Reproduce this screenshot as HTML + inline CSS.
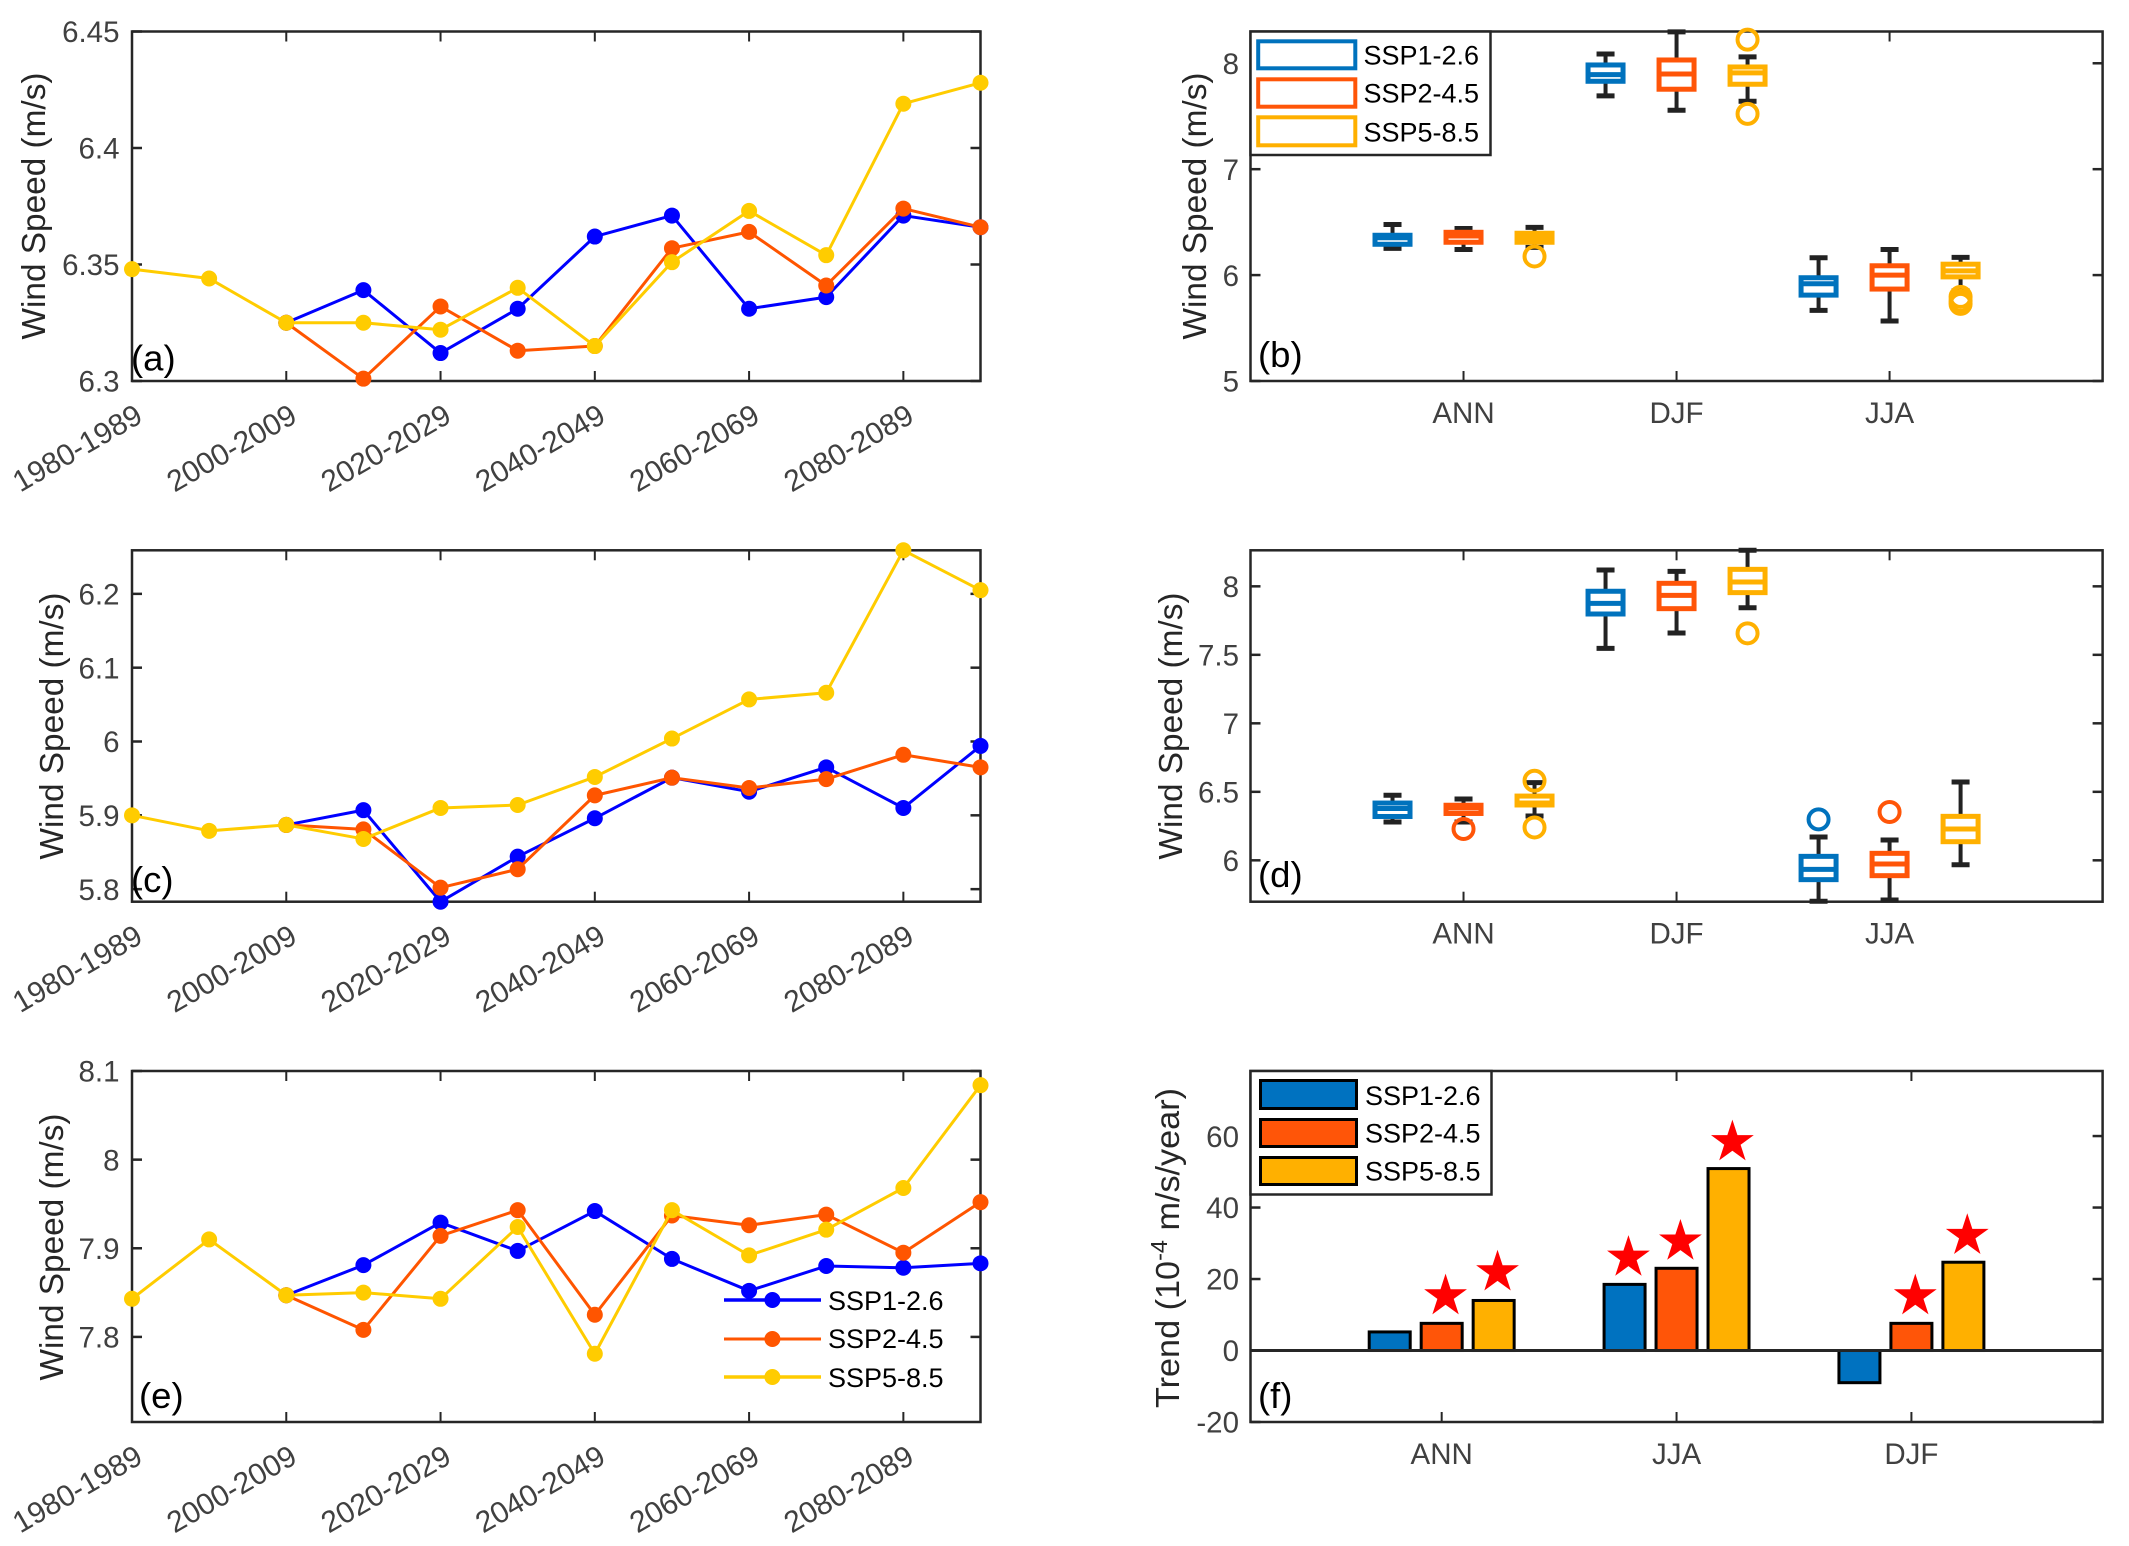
<!DOCTYPE html>
<html lang="en">
<head>
<meta charset="utf-8">
<title>Wind speed projections under SSP scenarios</title>
<style>
html,body{margin:0;padding:0;background:#fff;}
svg{display:block;}
text{font-family:"Liberation Sans",Arial,sans-serif;}
.title{font-size:33.5px;fill:#262626;}
.tick{font-size:29.5px;fill:#404040;}
.xrot{font-size:30px;fill:#404040;}
.letter{font-size:36.5px;fill:#000;}
.leg{font-size:27px;fill:#000;}
</style>
</head>
<body>
<svg xmlns="http://www.w3.org/2000/svg" width="2129" height="1546" viewBox="0 0 2129 1546">
  <rect x="0" y="0" width="2129" height="1546" fill="#ffffff"/>

  <g id="panel-a">
    <g id="axes-a"></g>
    <g id="marks-a"></g>
    <text class="title" transform="translate(45,206) rotate(-90)" text-anchor="middle" textLength="267" lengthAdjust="spacingAndGlyphs">Wind Speed (m/s)</text>
    <text class="letter" x="131" y="370.5">(a)</text>
  </g>

  <g id="panel-b">
    <g id="axes-b"></g>
    <g id="marks-b"></g>
    <text class="title" transform="translate(1206,206) rotate(-90)" text-anchor="middle" textLength="267" lengthAdjust="spacingAndGlyphs">Wind Speed (m/s)</text>
    <text class="letter" x="1258" y="367">(b)</text>
    <g>
      <rect x="1250.5" y="31.5" width="240" height="123.5" fill="#ffffff" stroke="#262626" stroke-width="2.5"/>
      <rect x="1258.2" y="41.3" width="97.1" height="27" fill="none" stroke="#0072bd" stroke-width="4"/>
      <rect x="1258.2" y="79.3" width="97.1" height="27.4" fill="none" stroke="#ff5508" stroke-width="4"/>
      <rect x="1258.2" y="117.3" width="97.1" height="28" fill="none" stroke="#ffb000" stroke-width="4"/>
      <text class="leg" x="1363.5" y="64.3">SSP1-2.6</text>
      <text class="leg" x="1363.5" y="102.3">SSP2-4.5</text>
      <text class="leg" x="1363.5" y="141.5">SSP5-8.5</text>
    </g>
  </g>

  <g id="panel-c">
    <g id="axes-c"></g>
    <g id="marks-c"></g>
    <text class="title" transform="translate(63,726) rotate(-90)" text-anchor="middle" textLength="267" lengthAdjust="spacingAndGlyphs">Wind Speed (m/s)</text>
    <text class="letter" x="131" y="892">(c)</text>
  </g>

  <g id="panel-d">
    <g id="axes-d"></g>
    <g id="marks-d"></g>
    <text class="title" transform="translate(1182,726) rotate(-90)" text-anchor="middle" textLength="267" lengthAdjust="spacingAndGlyphs">Wind Speed (m/s)</text>
    <text class="letter" x="1258" y="887">(d)</text>
  </g>

  <g id="panel-e">
    <g id="axes-e"></g>
    <g id="marks-e"></g>
    <text class="title" transform="translate(63,1247) rotate(-90)" text-anchor="middle" textLength="267" lengthAdjust="spacingAndGlyphs">Wind Speed (m/s)</text>
    <text class="letter" x="139" y="1408">(e)</text>
    <g>
      <line x1="724" y1="1300" x2="821" y2="1300" stroke="#0000ff" stroke-width="3.5"/>
      <circle cx="772.4" cy="1300" r="8" fill="#0000ff"/>
      <text class="leg" x="828" y="1310">SSP1-2.6</text>
      <line x1="724" y1="1339" x2="821" y2="1339" stroke="#ff5500" stroke-width="3"/>
      <circle cx="772.4" cy="1339" r="8" fill="#ff5500"/>
      <text class="leg" x="828" y="1348">SSP2-4.5</text>
      <line x1="724" y1="1377" x2="821" y2="1377" stroke="#ffcc00" stroke-width="3.5"/>
      <circle cx="772.4" cy="1377" r="8" fill="#ffcc00"/>
      <text class="leg" x="828" y="1387">SSP5-8.5</text>
    </g>
  </g>

  <g id="panel-f">
    <g id="axes-f"></g>
    <g id="marks-f"></g>
    <text class="title" transform="translate(1179,1248) rotate(-90)" text-anchor="middle" textLength="320" lengthAdjust="spacingAndGlyphs">Trend (10<tspan dy="-12" font-size="23">-4</tspan><tspan dy="12"> m/s/year)</tspan></text>
    <text class="letter" x="1258" y="1408">(f)</text>
    <g>
      <rect x="1250.5" y="1071" width="241" height="123.5" fill="#ffffff" stroke="#262626" stroke-width="2.5"/>
      <rect x="1260.5" y="1080.5" width="96" height="28" fill="#0072c0" stroke="#000000" stroke-width="3"/>
      <rect x="1260.5" y="1119.5" width="96" height="27" fill="#ff5508" stroke="#000000" stroke-width="3"/>
      <rect x="1260.5" y="1157.5" width="96" height="27" fill="#ffb000" stroke="#000000" stroke-width="3"/>
      <text class="leg" x="1365" y="1105">SSP1-2.6</text>
      <text class="leg" x="1365" y="1142.7">SSP2-4.5</text>
      <text class="leg" x="1365" y="1180.7">SSP5-8.5</text>
    </g>
  </g>
</svg>

<script>
/* ---------- shared categories ---------- */
const periodTickIndex = [0, 2, 4, 6, 8, 10];
const periodTickLabels = ['1980-1989', '2000-2009', '2020-2029', '2040-2049', '2060-2069', '2080-2089'];

/* ---------- panel a: decadal wind speed ---------- */
const aSsp1 = [null, null, 6.325, 6.339, 6.312, 6.331, 6.362, 6.371, 6.331, 6.336, 6.371, 6.366];
const aSsp2 = [null, null, 6.325, 6.301, 6.332, 6.313, 6.315, 6.357, 6.364, 6.341, 6.374, 6.366];
const aSsp5 = [6.348, 6.344, 6.325, 6.325, 6.322, 6.340, 6.315, 6.351, 6.373, 6.354, 6.419, 6.428];
const aYTicks = [6.3, 6.35, 6.4, 6.45];
const aYLabels = ['6.3', '6.35', '6.4', '6.45'];

/* ---------- panel c ---------- */
const cSsp1 = [null, null, 5.887, 5.907, 5.783, 5.844, 5.896, 5.951, 5.932, 5.965, 5.910, 5.994];
const cSsp2 = [null, null, 5.887, 5.881, 5.802, 5.827, 5.927, 5.951, 5.937, 5.949, 5.982, 5.965];
const cSsp5 = [5.900, 5.879, 5.887, 5.868, 5.910, 5.914, 5.952, 6.004, 6.057, 6.066, 6.259, 6.205];
const cYTicks = [5.8, 5.9, 6, 6.1, 6.2];
const cYLabels = ['5.8', '5.9', '6', '6.1', '6.2'];

/* ---------- panel e ---------- */
const eSsp1 = [null, null, 7.847, 7.881, 7.929, 7.897, 7.942, 7.888, 7.852, 7.880, 7.878, 7.883];
const eSsp2 = [null, null, 7.847, 7.808, 7.914, 7.943, 7.825, 7.937, 7.926, 7.938, 7.895, 7.952];
const eSsp5 = [7.843, 7.910, 7.847, 7.850, 7.843, 7.924, 7.781, 7.943, 7.892, 7.921, 7.968, 8.084];
const eYTicks = [7.8, 7.9, 8, 8.1];
const eYLabels = ['7.8', '7.9', '8', '8.1'];

/* ---------- box panels: each row = [low, q1, median, q3, high] for one season ---------- */
const boxSeasons = ['ANN', 'DJF', 'JJA'];

const bBoxSsp1 = [[6.252, 6.291, 6.352, 6.376, 6.478], [7.692, 7.830, 7.893, 7.984, 8.088], [5.667, 5.811, 5.918, 5.975, 6.164]];
const bBoxSsp2 = [[6.242, 6.310, 6.369, 6.404, 6.440], [7.557, 7.755, 7.899, 8.031, 8.296], [5.566, 5.868, 6.000, 6.088, 6.242]];
const bBoxSsp5 = [[6.262, 6.310, 6.354, 6.395, 6.450], [7.642, 7.802, 7.909, 7.965, 8.060], [5.851, 5.983, 6.040, 6.103, 6.167]];
const bOutSsp1 = [[], [], []];
const bOutSsp2 = [[], [], []];
const bOutSsp5 = [[6.176], [8.223, 7.522], [5.794, 5.756, 5.728]];
const bYTicks = [5, 6, 7, 8];
const bYLabels = ['5', '6', '7', '8'];

const dBoxSsp1 = [[6.280, 6.320, 6.378, 6.418, 6.475], [7.547, 7.798, 7.876, 7.964, 8.119], [5.701, 5.859, 5.934, 6.029, 6.170]];
const dBoxSsp2 = [[6.280, 6.342, 6.382, 6.402, 6.448], [7.659, 7.837, 7.934, 8.022, 8.109], [5.710, 5.888, 5.973, 6.051, 6.148]];
const dBoxSsp5 = [[6.324, 6.404, 6.418, 6.469, 6.567], [7.844, 7.954, 8.032, 8.124, 8.263], [5.968, 6.136, 6.229, 6.321, 6.572]];
const dOutSsp1 = [[], [], [6.299]];
const dOutSsp2 = [[6.229], [], [6.353]];
const dOutSsp5 = [[6.581, 6.240], [7.657], []];
const dYTicks = [6, 6.5, 7, 7.5, 8];
const dYLabels = ['6', '6.5', '7', '7.5', '8'];

/* ---------- panel f: trends ---------- */
const trendSeasons = ['ANN', 'JJA', 'DJF'];
const trendSsp1 = [5.2, 18.5, -9];
const trendSsp2 = [7.6, 23, 7.6];
const trendSsp5 = [14, 50.9, 24.7];
const starSsp1 = [null, 26, null];
const starSsp2 = [15.2, 30.5, 15.2];
const starSsp5 = [21.9, 58.3, 32.1];
const fYTicks = [-20, 0, 20, 40, 60];
const fYLabels = ['-20', '0', '20', '40', '60'];

/* ---------- helpers ---------- */
const NS = 'http://www.w3.org/2000/svg';
const AXIS = '#262626';
function el(tag, attrs, parent, txt) {
  const n = document.createElementNS(NS, tag);
  for (const k in attrs) n.setAttribute(k, attrs[k]);
  if (txt !== undefined) n.textContent = txt;
  parent.appendChild(n);
  return n;
}
function linScale(d0, d1, p0, p1) {
  return function (v) { return p0 + (v - d0) / (d1 - d0) * (p1 - p0); };
}

function drawFrame(id, box) {
  const g = document.getElementById('axes-' + id);
  const frame = el('rect', {x: box.l, y: box.t, width: box.r - box.l, height: box.b - box.t, fill: 'none', stroke: AXIS, 'stroke-width': 2.5}, g);
  
  
  return g;
}
function drawYTicks(g, box, y, values, labels, labelX) {
  values.forEach(function (v, i) {
    const py = y(v);
    const right = el('line', {x1: box.r - 10, x2: box.r, y1: py, y2: py, stroke: AXIS, 'stroke-width': 2.5}, g);
    
    
    const left = el('line', {x1: box.l, x2: box.l + 10, y1: py, y2: py, stroke: AXIS, 'stroke-width': 2.5}, g);
    
    
    const t = el('text', {x: labelX, y: py + 10.7, 'text-anchor': 'end', class: 'tick'}, g, labels[i]);
    
    
  });
}
function drawXTickMarks(g, box, px) {
  const top = el('line', {x1: px, x2: px, y1: box.t, y2: box.t + 10, stroke: AXIS, 'stroke-width': 2}, g);
  
  
  const bottom = el('line', {x1: px, x2: px, y1: box.b - 10, y2: box.b, stroke: AXIS, 'stroke-width': 2}, g);
  
  
}

/* ---------- line panels ---------- */
function drawLinePanel(id, box, yMin, yMax, s1, s2, s5, yTicks, yLabels) {
  const g = drawFrame(id, box);
  const x = linScale(0, 11, box.l, box.r);
  const y = linScale(yMin, yMax, box.b, box.t);
  drawYTicks(g, box, y, yTicks, yLabels, 119.5);
  periodTickIndex.forEach(function (ix, i) {
    if (ix > 0) drawXTickMarks(g, box, x(ix));
    const t = el('text', {transform: 'translate(' + (x(ix) + 12.5) + ',' + (box.b + 40) + ') rotate(-30)', 'text-anchor': 'end', class: 'xrot'}, g, periodTickLabels[i]);
    
    
  });
  const marks = document.getElementById('marks-' + id);
  [[s1, '#0000ff'], [s2, '#ff5500'], [s5, '#ffcc00']].forEach(function (pair) {
    const vals = pair[0], color = pair[1];
    const pts = [];
    vals.forEach(function (v, i) { if (v !== null) pts.push(x(i).toFixed(2) + ',' + y(v).toFixed(2)); });
    const line = el('polyline', {points: pts.join(' '), fill: 'none', stroke: color, 'stroke-width': 3, 'stroke-linejoin': 'round'}, marks);
    
    
    vals.forEach(function (v, i) {
      if (v === null) return;
      const c = el('circle', {cx: x(i), cy: y(v), r: 8, fill: color}, marks);
      
      
    });
  });
}

/* ---------- box panels ---------- */
function drawBoxPanel(id, box, yMin, yMax, sets, outs, yTicks, yLabels) {
  const g = drawFrame(id, box);
  const x = linScale(0, 4, box.l, box.r);
  const y = linScale(yMin, yMax, box.b, box.t);
  drawYTicks(g, box, y, yTicks, yLabels, 1239);
  boxSeasons.forEach(function (name, i) {
    drawXTickMarks(g, box, x(i + 1));
    const t = el('text', {x: x(i + 1), y: box.b + 42, 'text-anchor': 'middle', class: 'tick'}, g, name);
    
    
  });
  const marks = document.getElementById('marks-' + id);
  const colors = ['#0072bd', '#ff5508', '#ffb000'];
  const offs = [-1 / 3, 0, 1 / 3];
  const halfW = 17.5, capW = 9;
  sets.forEach(function (rows, s) {
    rows.forEach(function (r, i) {
      const cx = x(i + 1 + offs[s]);
      const whiskers = [[r[3], r[4]], [r[1], r[0]]];
      whiskers.forEach(function (w) {
        const stem = el('line', {x1: cx, x2: cx, y1: y(w[0]), y2: y(w[1]), stroke: '#222222', 'stroke-width': 4}, marks);
        
        
        const cap = el('line', {x1: cx - capW, x2: cx + capW, y1: y(w[1]), y2: y(w[1]), stroke: '#222222', 'stroke-width': 5}, marks);
        
        
      });
      const rect = el('rect', {x: cx - halfW, y: y(r[3]), width: 2 * halfW, height: y(r[1]) - y(r[3]), fill: '#ffffff', stroke: colors[s], 'stroke-width': 5}, marks);
      
      
      const med = el('line', {x1: cx - halfW, x2: cx + halfW, y1: y(r[2]), y2: y(r[2]), stroke: colors[s], 'stroke-width': 5}, marks);
      
      
    });
  });
  sets.forEach(function (rows, s) {
    rows.forEach(function (r, i) {
      const cx = x(i + 1 + offs[s]);
      outs[s][i].forEach(function (v) {
        const c = el('circle', {cx: cx, cy: y(v), r: 10, fill: 'none', stroke: colors[s], 'stroke-width': 4}, marks);
        
        
      });
    });
  });
}

/* ---------- bar panel ---------- */
function drawBarPanel(id, box, yMin, yMax) {
  const g = drawFrame(id, box);
  const x = linScale(0.186, 3.814, box.l, box.r);
  const y = linScale(yMin, yMax, box.b, box.t);
  drawYTicks(g, box, y, fYTicks, fYLabels, 1239);
  trendSeasons.forEach(function (name, i) {
    drawXTickMarks(g, box, x(i + 1));
    const t = el('text', {x: x(i + 1), y: box.b + 42, 'text-anchor': 'middle', class: 'tick'}, g, name);
    
    
  });
  const marks = document.getElementById('marks-' + id);
  const colors = ['#0072c0', '#ff5508', '#ffb000'];
  const offs = [-0.2213, 0, 0.2213];
  const barW = 41;
  [trendSsp1, trendSsp2, trendSsp5].forEach(function (vals, s) {
    vals.forEach(function (v, i) {
      const cx = x(i + 1 + offs[s]);
      const y0 = y(0), yv = y(v);
      const bar = el('rect', {x: cx - barW / 2, y: Math.min(y0, yv), width: barW, height: Math.abs(y0 - yv), fill: colors[s], stroke: '#000000', 'stroke-width': 3}, marks);
      
      
    });
  });
  const zero = el('line', {x1: box.l, x2: box.r, y1: y(0), y2: y(0), stroke: AXIS, 'stroke-width': 3}, marks);
  
  
  [starSsp1, starSsp2, starSsp5].forEach(function (vals, s) {
    vals.forEach(function (v, i) {
      if (v === null) return;
      const cx = x(i + 1 + offs[s] + 0.0165), cy = y(v);
      const R = 22.5, r = R * 0.382;
      const pts = [];
      for (let k = 0; k < 10; k++) {
        const a = -Math.PI / 2 + k * Math.PI / 5;
        const rad = k % 2 === 0 ? R : r;
        pts.push((cx + rad * Math.cos(a)).toFixed(2) + ',' + (cy + rad * Math.sin(a)).toFixed(2));
      }
      const star = el('polygon', {points: pts.join(' '), fill: '#ff0000'}, marks);
      
      
    });
  });
}

/* ---------- compose ---------- */
const leftBox = {l: 132, r: 980.5};
const rightBox = {l: 1250.5, r: 2102.6};
drawLinePanel('a', {l: leftBox.l, r: leftBox.r, t: 31.5, b: 381}, 6.3, 6.45, aSsp1, aSsp2, aSsp5, aYTicks, aYLabels);
drawBoxPanel('b', {l: rightBox.l, r: rightBox.r, t: 31.5, b: 381}, 5, 8.3, [bBoxSsp1, bBoxSsp2, bBoxSsp5], [bOutSsp1, bOutSsp2, bOutSsp5], bYTicks, bYLabels);
drawLinePanel('c', {l: leftBox.l, r: leftBox.r, t: 550.3, b: 901.7}, 5.783, 6.259, cSsp1, cSsp2, cSsp5, cYTicks, cYLabels);
drawBoxPanel('d', {l: rightBox.l, r: rightBox.r, t: 550.3, b: 901.7}, 5.698, 8.263, [dBoxSsp1, dBoxSsp2, dBoxSsp5], [dOutSsp1, dOutSsp2, dOutSsp5], dYTicks, dYLabels);
drawLinePanel('e', {l: leftBox.l, r: leftBox.r, t: 1071, b: 1422}, 7.704, 8.1, eSsp1, eSsp2, eSsp5, eYTicks, eYLabels);
drawBarPanel('f', {l: rightBox.l, r: rightBox.r, t: 1071, b: 1422}, -20, 78.2);
</script>
</body>
</html>
